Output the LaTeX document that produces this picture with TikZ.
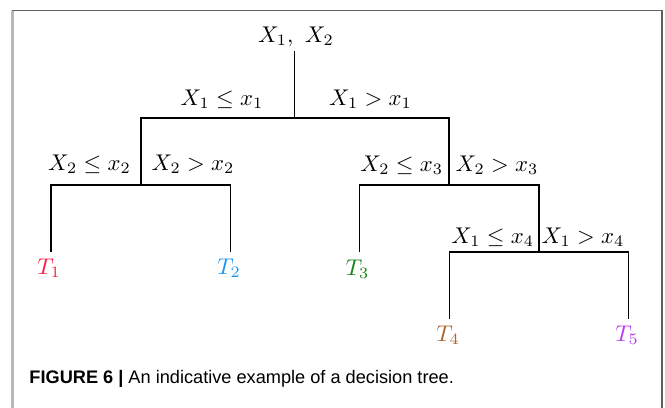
\documentclass[tikz,border=0pt]{standalone}
\usepackage{fontspec}
\newfontfamily\capfont{Liberation Sans}
\definecolor{tone}{RGB}{250,30,70}
\definecolor{ttwo}{RGB}{25,150,240}
\definecolor{tthree}{RGB}{20,130,20}
\definecolor{tfour}{RGB}{170,100,50}
\definecolor{tfive}{RGB}{185,55,250}
\definecolor{frameleft}{RGB}{185,185,185}
\definecolor{framedark}{RGB}{95,95,95}
\begin{document}
\begin{tikzpicture}[x=0.44pt,y=-0.44pt,
  lab/.style={inner sep=0pt},
  leaf/.style={inner sep=0pt},
  branch/.style={line width=0.6pt,black},
  frm/.style={line width=0.45pt,framedark}]
\useasboundingbox (0,0) rectangle (665,408);
% frame
\draw[line width=0.9pt,frameleft] (12.5,10.5) -- (12.5,408);
\draw[frm] (12,10.5) -- (662,10.5) -- (662,408);
% root
\node[lab] (r) at (296,37) {$X_1,\ X_2$};
\coordinate (r0) at (294.5,51);
\coordinate (a) at (294.5,118);
\coordinate (aL) at (141,118);
\coordinate (aR) at (449,118);
\coordinate (bL) at (51,185);
\coordinate (bR) at (230.5,185);
\coordinate (b) at (141,185);
\coordinate (c) at (449,185);
\coordinate (cL) at (359.5,185);
\coordinate (cR) at (539,185);
\coordinate (d) at (539,252);
\coordinate (dL) at (449.5,252);
\coordinate (dR) at (628.5,252);
% leaf line ends
\coordinate (e1) at (51,252);
\coordinate (e2) at (230.5,252);
\coordinate (e3) at (359.5,252);
\coordinate (e4) at (449.5,319);
\coordinate (e5) at (628.5,319);
% edge labels
\node[lab] (l1) at (222,99) {$X_1 \le x_1$};
\node[lab] (l2) at (370.5,99) {$X_1 > x_1$};
\node[lab] (l3) at (89.5,164) {$X_2 \le x_2$};
\node[lab] (l4) at (193,164) {$X_2 > x_2$};
\node[lab] (l5) at (401.7,165) {$X_2 \le x_3$};
\node[lab] (l6) at (497,165) {$X_2 > x_3$};
\node[lab] (l7) at (492.7,237) {$X_1 \le x_4$};
\node[lab] (l8) at (583,237) {$X_1 > x_4$};
% leaves
\node[leaf,text=tone] (t1) at (49,268) {$T_1$};
\node[leaf,text=ttwo] (t2) at (229,268) {$T_2$};
\node[leaf,text=tthree] (t3) at (357.5,269) {$T_3$};
\node[leaf,text=tfour] (t4) at (448,335) {$T_4$};
\node[leaf,text=tfive] (t5) at (627,335) {$T_5$};
% branches
\draw[branch] (r0) -- (a);
\draw[branch] (b) -- (aL) -- (aR) -- (c);
\draw[branch] (e1) -- (bL) -- (bR) -- (e2);
\draw[branch] (e3) -- (cL) -- (cR) -- (d);
\draw[branch] (e4) -- (dL) -- (dR) -- (e5);
% caption
\node[anchor=base west,inner sep=0pt,font=\capfont\fontsize{8}{9.6}\selectfont] (cap) at (29,383)
  {\textbf{FIGURE 6 |} An indicative example of a decision tree.};
\end{tikzpicture}
\end{document}
